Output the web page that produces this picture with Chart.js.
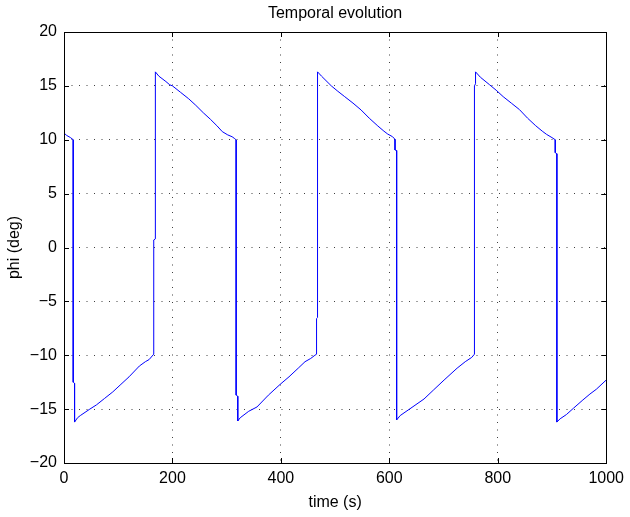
<!DOCTYPE html>
<html>
<head>
<meta charset="utf-8">
<script src="https://cdn.jsdelivr.net/npm/chart.js@4"></script>
<style>
  body { margin: 0; background: #fff; }
  #wrap { width: 630px; height: 517px; }
</style>
</head>
<body>
<div id="wrap"><canvas id="myChart" width="630" height="517"></canvas></div>
<script>
// time (s) and phi (deg)
const times = [0, 0.5, 5, 12, 17, 17, 19.5, 19.5, 25, 30, 47.6, 60, 75, 90, 105, 120, 139, 150, 157, 165.5, 165.5, 168.5, 168.5,
    175, 188, 195, 200, 215, 230, 243, 257, 270, 282, 292, 302, 310, 315, 317.5, 317.5, 320.5, 320.5,
    325, 340.7, 355.9, 377, 398.7, 415, 432, 444.5, 455, 462.8, 465.8, 465.8, 467.6, 467.6,
    475, 493, 505, 517.7, 533, 548, 563, 578.8, 590, 597, 606, 610.5, 610.5, 613.5, 613.5,
    620, 640, 664, 682, 701, 725, 740, 752, 757, 757, 759, 759,
    768, 785, 797, 810, 825, 840, 855, 870, 882, 890, 900, 906, 906, 909, 909,
    915, 926.7, 940, 957, 970, 981.7, 1000];
const phi = [0, 10.6, 10.4, 10.2, 10.0, -12.5, -12.6, -16.2, -15.8, -15.6, -15.0, -14.6, -14.0, -13.4, -12.7, -12.0, -11.0, -10.6, -10.4, -9.9, 0.7, 0.8, 16.3,
    15.9, 15.4, 15.1, 15.0, 14.4, 13.8, 13.2, 12.5, 11.9, 11.3, 10.75, 10.45, 10.28, 10.1, 9.98, -13.7, -13.8, -16.1,
    -15.8, -15.2, -14.8, -13.7, -12.7, -12.0, -11.2, -10.6, -10.3, -10.0, -9.9, -6.6, -6.5, 16.3,
    15.9, 15.0, 14.5, 14.0, 13.4, 12.76, 12.0, 11.28, 10.8, 10.53, 10.28, 10.04, 9.05, 9.0, -16.0,
    -15.6, -14.9, -14.06, -13.2, -12.3, -11.2, -10.6, -10.2, -9.9, 15.0, 15.2, 16.3,
    15.8, 15.1, 14.6, 14.0, 13.4, 12.8, 12.0, 11.3, 10.8, 10.5, 10.2, 10.0, 8.8, 8.7, -16.2,
    -15.9, -15.5, -14.9, -14.15, -13.6, -13.16, -12.3];

const xTicks = [0, 200, 400, 600, 800, 1000];
const yTicks = [-20, -15, -10, -5, 0, 5, 10, 15, 20];

const fontFamily = "'Liberation Sans', Arial, Helvetica, sans-serif";

// box + inward ticks on all four sides, like matlab
const boxPlugin = {
    id: 'boxTicks',
    afterDraw(chart) {
        const a = chart.chartArea;
        const c = chart.ctx;
        const xs = chart.scales.x, ys = chart.scales.y;
        c.save();
        c.strokeStyle = '#000';
        c.lineWidth = 1;
        c.beginPath();
        xTicks.forEach(v => {
            const px = Math.round(xs.getPixelForValue(v)) + 0.5;
            c.moveTo(px, a.bottom); c.lineTo(px, a.bottom - 5);
            c.moveTo(px, a.top); c.lineTo(px, a.top + 5);
        });
        yTicks.forEach(v => {
            const py = Math.round(ys.getPixelForValue(v)) + 0.5;
            c.moveTo(a.left, py); c.lineTo(a.left + 5, py);
            c.moveTo(a.right, py); c.lineTo(a.right - 5, py);
        });
        c.stroke();
        c.strokeRect(Math.round(a.left) + 0.5, Math.round(a.top) + 0.5,
            Math.round(a.right - a.left), Math.round(a.bottom - a.top));
        c.restore();
    }
};

const ctx = document.getElementById('myChart');
let myChart = new Chart(ctx, {
    type: 'line',
    data: {
        datasets: [{
            label: 'phi',
            data: times.map((t, i) => ({x: t, y: phi[i]})),
            borderColor: '#0000ff',
            borderWidth: 1,
            pointRadius: 0,
            tension: 0,
            fill: false
        }]
    },
    options: {
        responsive: false,
        animation: false,
        devicePixelRatio: 1,
        layout: { padding: { top: 0, right: 20, left: 0, bottom: 0 } },
        plugins: {
            legend: { display: false },
            tooltip: { enabled: false },
            title: {
                display: true,
                text: 'Temporal evolution',
                fullSize: false,
                color: '#000',
                font: { family: fontFamily, size: 16, weight: 'normal' },
                padding: { top: 4, bottom: 8.8 }
            }
        },
        scales: {
            x: {
                type: 'linear',
                min: 0, max: 1000,
                afterFit(scale) { scale.height = 54; },
                afterBuildTicks(scale) { scale.ticks = xTicks.map(v => ({value: v})); },
                ticks: { color: '#000', padding: 6, maxRotation: 0,
                    font: { family: fontFamily, size: 16 },
                    callback: v => String(v) },
                grid: { color: 'rgba(0,0,0,0.75)', lineWidth: 1, drawTicks: false },
                border: { display: false, dash: [1, 6.5] },
                title: { display: true, text: 'time (s)', color: '#000', padding: 5,
                    font: { family: fontFamily, size: 16 } }
            },
            y: {
                min: -20, max: 20,
                afterFit(scale) { scale.width = 64; },
                afterBuildTicks(scale) { scale.ticks = yTicks.map(v => ({value: v})); },
                ticks: { color: '#000', padding: 7,
                    font: { family: fontFamily, size: 16 },
                    callback: v => String(v).replace('-', '\u2212') },
                grid: { color: 'rgba(0,0,0,0.75)', lineWidth: 1, drawTicks: false },
                border: { display: false, dash: [1, 6.5] },
                title: { display: true, text: 'phi (deg)', color: '#000', padding: 5,
                    font: { family: fontFamily, size: 16 } }
            }
        }
    },
    plugins: [boxPlugin]
});
</script>
</body>
</html>
